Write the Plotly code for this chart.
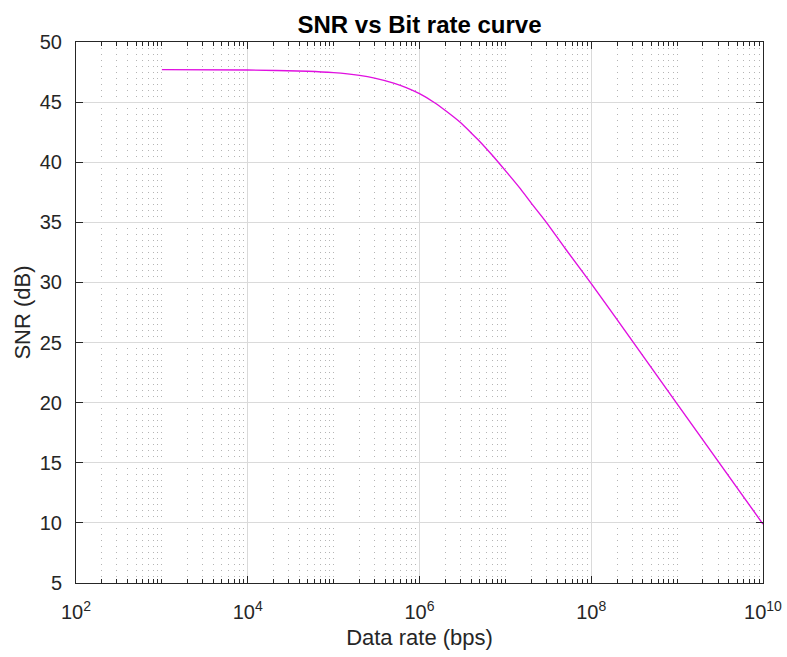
import plotly.graph_objects as go

# Data
data_rate = [1e3, 1e4, 5e4, 1e5, 2e5, 3e5, 5e5, 7e5, 1e6, 1.5e6, 2e6, 3e6, 4e6, 5e6, 7e6,
             1e7, 1.5e7, 2e7, 3e7, 5e7, 1e8, 2e8, 1e9, 1e10]
snr_db = [47.7, 47.67, 47.57, 47.45, 47.22, 47.0, 46.58, 46.2, 45.7, 44.95, 44.3, 43.3, 42.44, 41.75, 40.6,
          39.3, 37.78, 36.6, 35.0, 32.8, 29.9, 26.9, 19.9, 9.9]

x_major = [1e2, 1e4, 1e6, 1e8, 1e10]
x_major_text = ["10<sup>2</sup>", "10<sup>4</sup>", "10<sup>6</sup>", "10<sup>8</sup>", "10<sup>10</sup>"]
x_minor = [m * 10 ** e for e in range(2, 10) for m in range(1, 10) if not (m == 1 and e % 2 == 0)]

FONT = "Liberation Sans, Arial, sans-serif"
AX = "#262626"

fig = go.Figure()
fig.add_trace(go.Scatter(x=data_rate, y=snr_db, mode="lines", line_shape="spline",
                         line=dict(color="#e010e0", width=1.4, smoothing=0.6), showlegend=False))

fig.update_layout(
    width=787, height=657,
    margin=dict(l=76, r=24, t=42, b=74, autoexpand=False),
    paper_bgcolor="white", plot_bgcolor="white",
    font=dict(family=FONT, color=AX, size=20),
    title=dict(text="<b>SNR vs Bit rate curve</b>", x=0.5, xref="paper", xanchor="center",
               y=1, yref="paper", yanchor="bottom", pad=dict(b=9),
               font=dict(size=24, color="black")),
)

fig.update_xaxes(
    type="log", range=[2, 10], automargin=False,
    tickmode="array", tickvals=x_major, ticktext=x_major_text,
    ticks="inside", ticklen=7, tickcolor=AX, tickwidth=1,
    showline=True, linecolor=AX, linewidth=1, mirror="ticks",
    showgrid=True, gridcolor="#dadada", gridwidth=1,
    minor=dict(tickmode="array", tickvals=x_minor, ticks="inside", ticklen=4,
               tickcolor=AX, showgrid=True, gridcolor="#b4b4b4", griddash="1px,5px", gridwidth=1),
    zeroline=False,
    tickfont=dict(size=20, color=AX),
    ticklabelstandoff=11,
    ticklabeloverflow="allow",
    title=dict(text="Data rate (bps)", font=dict(size=22, color=AX), standoff=7),
)
fig.update_yaxes(
    range=[5, 50], tickmode="linear", tick0=5, dtick=5, automargin=False,
    ticks="inside", ticklen=7, tickcolor=AX, tickwidth=1,
    showline=True, linecolor=AX, linewidth=1, mirror="ticks",
    showgrid=True, gridcolor="#dadada", gridwidth=1,
    zeroline=False,
    tickfont=dict(size=20, color=AX),
    ticklabelstandoff=9,
    title=dict(text="SNR (dB)", font=dict(size=22, color=AX), standoff=3),
)

fig.write_html("out.html", config={"displayModeBar": False},
               post_script="document.body.style.margin='0';")
